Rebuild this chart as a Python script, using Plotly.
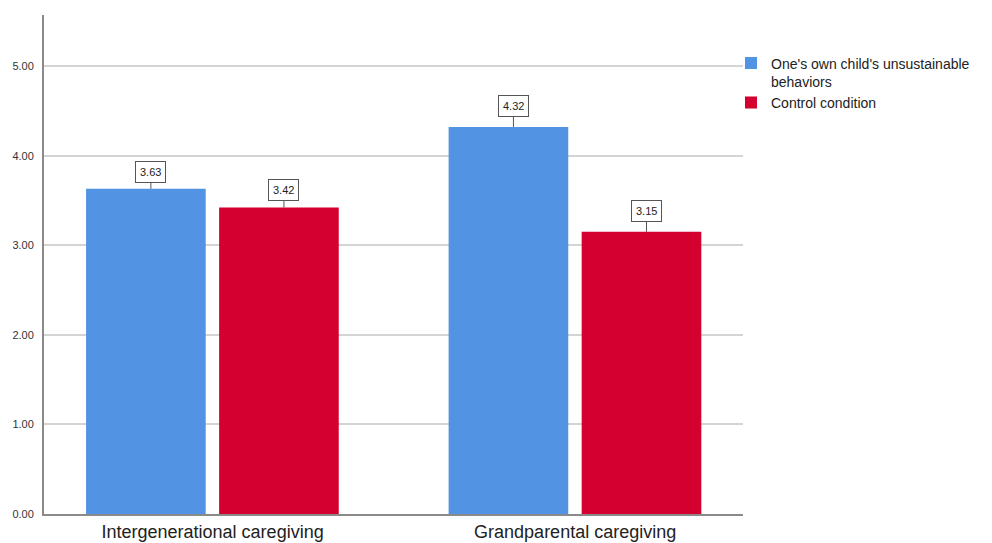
import plotly.graph_objects as go

# Mean scores per caregiving type and condition
categories = ["Intergenerational caregiving", "Grandparental caregiving"]
series_names = ["One's own child's unsustainable<br>behaviors", "Control condition"]
child_means = [3.63, 4.32]
control_means = [3.42, 3.15]
child_ci_half = [0.05, 0.095]
control_ci_half = [0.065, 0.10]
y_ticks = [0, 1, 2, 3, 4, 5]

W, H = 992, 543
M_L, M_R, M_T, M_B = 44, 249, 15, 29
Y_TOP = 5.57
X_RANGE = [-0.465, 1.463]
BAR_W = 0.33

BLUE = "#5393E3"
RED = "#D4002F"
FONT = "Arial, Liberation Sans, sans-serif"

x_pos = list(range(len(categories)))
px_per_unit = (H - M_T - M_B) / Y_TOP

fig = go.Figure()
for name, vals, errs, color, off in [
    (series_names[0], child_means, child_ci_half, BLUE, -0.349),
    (series_names[1], control_means, control_ci_half, RED, 0.018),
]:
    fig.add_trace(go.Bar(
        x=x_pos, y=vals, name=name, width=BAR_W, offset=off,
        marker=dict(color=color, line=dict(width=0)),
        hoverinfo="skip",
    ))
    # value boxes on a short leader line above each bar
    for xi, v, e in zip(x_pos, vals, errs):
        fig.add_annotation(
            x=xi + off + BAR_W / 2, y=v, xref="x", yref="y",
            text=f"{v:.2f}", showarrow=True, arrowhead=0, arrowwidth=1,
            arrowcolor="#555555", ax=0, ay=-(e * px_per_unit + 12),
            xshift=5,
            font=dict(family=FONT, size=11, color="#222222"),
            bgcolor="white", bordercolor="#555555", borderwidth=1, borderpad=4,
        )

fig.update_layout(
    width=W, height=H,
    margin=dict(l=M_L, r=M_R, t=M_T, b=M_B, pad=0, autoexpand=False),
    plot_bgcolor="white", paper_bgcolor="white",
    barmode="overlay",
    font=dict(family=FONT, color="#222222"),
    showlegend=True,
    legend=dict(
        x=1 - 12 / (W - M_L - M_R), y=0.935, xanchor="left", yanchor="top",
        font=dict(family=FONT, size=14, color="#222222"),
        valign="top", itemwidth=30, tracegroupgap=2,
        bgcolor="rgba(0,0,0,0)",
    ),
)
fig.update_xaxes(
    range=X_RANGE, tickvals=x_pos, ticktext=categories,
    showgrid=False, zeroline=False, automargin=False,
    showline=True, linecolor="#8A8A8A", linewidth=2,
    ticks="", tickfont=dict(family=FONT, size=18, color="#222222"),
    ticklabelstandoff=0,
)
fig.update_yaxes(
    range=[0, Y_TOP], tickvals=y_ticks,
    ticktext=[f"{t:.2f}" for t in y_ticks], automargin=False,
    showgrid=True, gridcolor="#D4D4D4", gridwidth=1.5,
    zeroline=False, showline=True, linecolor="#8A8A8A", linewidth=2,
    ticks="", tickfont=dict(family=FONT, size=11, color="#333333"),
    ticklabelstandoff=6,
)

fig.write_html("out.html")
